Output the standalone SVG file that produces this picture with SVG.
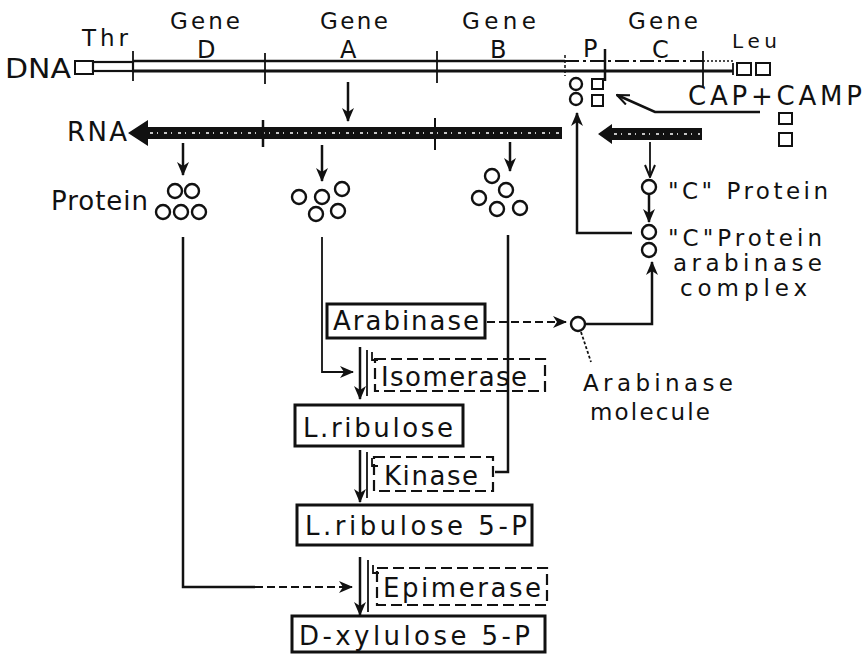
<svg xmlns="http://www.w3.org/2000/svg" width="866" height="656" viewBox="0 0 866 656">
<style>
text{font-family:"DejaVu Sans","Liberation Sans",sans-serif;fill:#111}
.t26{font-size:26px}
.t24{font-size:24px}
.t23{font-size:23px}
.t21{font-size:21px}
.t20{font-size:20px}
.ln{stroke:#111;stroke-width:2.5;fill:none}
.thin{stroke:#111;stroke-width:1.8;fill:none}
.dash{stroke:#111;stroke-width:2;fill:none;stroke-dasharray:8 4}
.box{fill:#fff;stroke:#111;stroke-width:3}
.dbox{fill:#fff;stroke:#111;stroke-width:2.2;stroke-dasharray:11 5}
.circ{fill:#fff;stroke:#111;stroke-width:2.4}
.sq{fill:#fff;stroke:#111;stroke-width:2}
</style>
<defs>
<marker id="ah" markerUnits="userSpaceOnUse" markerWidth="14" markerHeight="12" refX="13" refY="6" orient="auto">
<path d="M0,0 L14,6 L0,12 L4,6 z" fill="#111"/>
</marker>
<marker id="ao" markerUnits="userSpaceOnUse" markerWidth="14" markerHeight="12" refX="13" refY="6" orient="auto">
<path d="M1,1 L13,6 L1,11" fill="none" stroke="#111" stroke-width="2"/>
</marker>
</defs>
<rect width="866" height="656" fill="#fff"/>

<g id="dna">
<text x="5" y="78" class="t26" font-size="27" textLength="66" lengthAdjust="spacingAndGlyphs">DNA</text>
<rect x="75" y="61" width="18" height="13" class="sq"/>
<rect x="93" y="62" width="40" height="9" fill="none" stroke="#111" stroke-width="2.2"/>
<line x1="133" y1="61" x2="565" y2="61" stroke="#111" stroke-width="2.5"/>
<line x1="133" y1="71" x2="733" y2="71" stroke="#111" stroke-width="3"/>
<line x1="565" y1="61" x2="703" y2="61" stroke="#111" stroke-width="2" stroke-dasharray="14 4 3 4"/>
<line x1="703" y1="61" x2="733" y2="61" stroke="#111" stroke-width="1.5" stroke-dasharray="2 2"/>
<line x1="133" y1="51" x2="133" y2="81" class="thin"/>
<line x1="265" y1="53" x2="265" y2="84" class="thin"/>
<line x1="437" y1="51" x2="437" y2="83" class="thin"/>
<line x1="565" y1="55" x2="565" y2="76" stroke="#111" stroke-width="1.5" stroke-dasharray="3 2"/>
<line x1="605" y1="49" x2="605" y2="81" stroke="#111" stroke-width="2.5"/>
<line x1="703" y1="51" x2="703" y2="86" class="thin"/>
<line x1="733" y1="63" x2="733" y2="75" class="thin"/>
<rect x="737" y="63" width="14" height="12" class="sq"/>
<rect x="756" y="63" width="14" height="12" class="sq"/>
<text x="82" y="46" class="t23" textLength="46" lengthAdjust="spacing">Thr</text>
<text x="732" y="48" class="t20" textLength="45" lengthAdjust="spacing">Leu</text>
</g>

<g id="gene-labels">
<text x="170" y="29" class="t23" textLength="70" lengthAdjust="spacing">Gene</text>
<text x="197" y="58" class="t24">D</text>
<text x="320" y="29" class="t23" textLength="68" lengthAdjust="spacing">Gene</text>
<text x="340" y="58" class="t24">A</text>
<text x="462" y="29" class="t23" textLength="74" lengthAdjust="spacing">Gene</text>
<text x="490" y="58" class="t24">B</text>
<text x="583" y="57" class="t24">P</text>
<text x="628" y="29" class="t23" textLength="70" lengthAdjust="spacing">Gene</text>
<text x="652" y="58" class="t24">C</text>
</g>

<g id="promoter-cap">
<circle cx="576" cy="84" r="6" class="circ"/>
<circle cx="576" cy="99" r="6" class="circ"/>
<rect x="592" y="79" width="11" height="10" class="sq"/>
<rect x="592" y="95" width="11" height="11" class="sq"/>
</g>

<g id="cap-camp">
<text x="688" y="105" class="t26" textLength="174" lengthAdjust="spacing">CAP+CAMP</text>
<rect x="779" y="113" width="13" height="11" class="sq"/>
<rect x="779" y="133" width="13" height="13" class="sq"/>
</g>

<g id="rna">
<text x="67" y="141" class="t26" textLength="60" lengthAdjust="spacing">RNA</text>
<path d="M128,133 L148,120 L148,127 L562,127 L562,139 L148,139 L148,146 Z" fill="#111"/>
<line x1="150" y1="133" x2="560" y2="133" stroke="#fff" stroke-width="1.5" stroke-dasharray="3 4 1 6"/>
<line x1="263" y1="120" x2="263" y2="147" stroke="#111" stroke-width="2.5"/>
<line x1="435" y1="118" x2="435" y2="150" stroke="#111" stroke-width="2"/>
</g>

<g id="rna-c">
<path d="M598,134 L612,124 L612,128 L702,128 L702,140 L612,140 L612,144 Z" fill="#111"/>
<line x1="614" y1="134" x2="700" y2="134" stroke="#fff" stroke-width="1.5" stroke-dasharray="3 4 1 6"/>
</g>

<g id="protein-d">
<text x="51" y="210" class="t26" textLength="97" lengthAdjust="spacing">Protein</text>
<circle cx="175" cy="191" r="7" class="circ"/>
<circle cx="192" cy="191" r="7" class="circ"/>
<circle cx="163" cy="212" r="7" class="circ"/>
<circle cx="181" cy="212" r="7" class="circ"/>
<circle cx="199" cy="212" r="7" class="circ"/>
</g>

<g id="protein-a">
<circle cx="299" cy="197" r="7" class="circ"/>
<circle cx="322" cy="197" r="7" class="circ"/>
<circle cx="342" cy="189" r="7" class="circ"/>
<circle cx="316" cy="214" r="7" class="circ"/>
<circle cx="338" cy="211" r="7" class="circ"/>
</g>

<g id="protein-b">
<circle cx="492" cy="176" r="7" class="circ"/>
<circle cx="506" cy="190" r="7" class="circ"/>
<circle cx="479" cy="198" r="7" class="circ"/>
<circle cx="497" cy="209" r="7" class="circ"/>
<circle cx="520" cy="208" r="7" class="circ"/>
</g>

<g id="c-protein">
<circle cx="649" cy="187" r="7" class="circ"/>
<text x="668" y="199" class="t23" textLength="160" lengthAdjust="spacing">"C" Protein</text>
</g>

<g id="c-protein-complex">
<circle cx="649" cy="232" r="7" class="circ"/>
<circle cx="649" cy="250" r="7" class="circ"/>
<text x="668" y="246" class="t23" textLength="154" lengthAdjust="spacing">"C"Protein</text>
<text x="673" y="271" class="t23" textLength="149" lengthAdjust="spacing">arabinase</text>
<text x="680" y="296" class="t23" textLength="127" lengthAdjust="spacing">complex</text>
</g>

<g id="arabinase">
<rect x="327" y="304" width="158" height="34" class="box"/>
<text x="333" y="330" class="t26" textLength="146" lengthAdjust="spacing">Arabinase</text>
</g>

<g id="arabinase-molecule">
<circle cx="578" cy="324" r="7" class="circ"/>
<text x="583" y="391" class="t23" textLength="150" lengthAdjust="spacing">Arabinase</text>
<text x="590" y="420" class="t23" textLength="120" lengthAdjust="spacing">molecule</text>
</g>

<g id="isomerase">
<rect x="375" y="359" width="170" height="32" class="dbox"/>
<text x="381" y="386" class="t26" textLength="146" lengthAdjust="spacing">Isomerase</text>
</g>

<g id="l-ribulose">
<rect x="295" y="405" width="168" height="41" class="box"/>
<text x="303" y="437" class="t26" textLength="150" lengthAdjust="spacing">L.ribulose</text>
</g>

<g id="kinase">
<rect x="374" y="457" width="119" height="34" class="dbox"/>
<text x="384" y="485" class="t26" textLength="94" lengthAdjust="spacing">Kinase</text>
</g>

<g id="l-ribulose-5p">
<rect x="297" y="505" width="235" height="40" class="box"/>
<text x="305" y="535" class="t26" textLength="222" lengthAdjust="spacing">L.ribulose 5-P</text>
</g>

<g id="epimerase">
<rect x="377" y="568" width="170" height="37" class="dbox"/>
<text x="383" y="597" class="t26" textLength="158" lengthAdjust="spacing">Epimerase</text>
</g>

<g id="d-xylulose-5p">
<rect x="292" y="616" width="253" height="36" class="box"/>
<text x="299" y="645" class="t26" textLength="231" lengthAdjust="spacing">D-xylulose 5-P</text>
</g>

<g id="connectors">
<line x1="348" y1="82" x2="348" y2="121" class="ln" marker-end="url(#ah)"/>
<line x1="183" y1="143" x2="183" y2="175" class="ln" marker-end="url(#ah)"/>
<line x1="322" y1="145" x2="322" y2="181" class="ln" marker-end="url(#ah)"/>
<line x1="510" y1="142" x2="510" y2="171" class="ln" marker-end="url(#ah)"/>
<line x1="650" y1="142" x2="650" y2="177" class="thin" marker-end="url(#ao)"/>
<line x1="649" y1="194" x2="649" y2="222" class="ln" marker-end="url(#ah)"/>
<path d="M632,233 H577 V113" class="ln" marker-end="url(#ah)"/>
<path d="M760,112 H655 L617,95" class="ln" marker-end="url(#ao)"/>
<path d="M183,237 V587 H255" class="ln"/>
<path d="M255,587 H352" class="dash" marker-end="url(#ah)"/>
<path d="M322,237 V372 H353" class="thin" marker-end="url(#ah)"/>
<path d="M508,235 V472 H495" class="ln"/>
<path d="M487,322 H566" class="dash" stroke-dasharray="6 4" marker-end="url(#ah)"/>
<path d="M585,324 H652 V262" class="ln" marker-end="url(#ah)"/>
<path d="M581,332 L591,362" class="thin" stroke-dasharray="3 2"/>
<line x1="360" y1="347" x2="360" y2="399" class="ln" marker-end="url(#ah)"/>
<line x1="367" y1="350" x2="367" y2="396" class="thin"/>
<path d="M372,352 V360 H378" class="thin"/>
<line x1="360" y1="450" x2="360" y2="502" class="ln" marker-end="url(#ah)"/>
<line x1="367" y1="452" x2="367" y2="498" class="thin"/>
<path d="M372,458 V466 H378" class="thin"/>
<line x1="360" y1="557" x2="360" y2="615" class="ln" marker-end="url(#ah)"/>
<line x1="368" y1="560" x2="368" y2="612" class="thin"/>
<path d="M373,565 V573 H379" class="thin"/>
</g>
</svg>
